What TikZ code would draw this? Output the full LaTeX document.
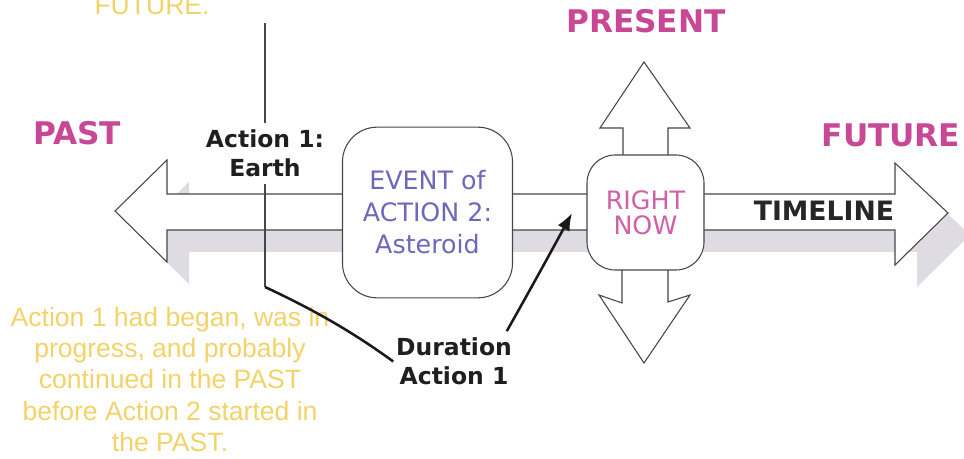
\documentclass[tikz,border=0pt]{standalone}
\usepackage{fontspec}
\newfontfamily\dvs{DejaVu Sans}
\newfontfamily\lsans{Liberation Sans}
\usetikzlibrary{arrows.meta}
\definecolor{mag}{RGB}{200,72,150}
\definecolor{rnpink}{RGB}{212,95,165}
\definecolor{evblue}{RGB}{108,104,186}
\definecolor{yel}{RGB}{243,210,105}
\definecolor{shd}{RGB}{222,219,227}
\definecolor{outl}{RGB}{70,70,70}
\begin{document}
\begin{tikzpicture}[x=0.75pt,y=-0.75pt,
  outline/.style={draw=outl,line width=0.8pt,fill=white},
  lbl/.style={font=\dvs\bfseries\fontsize{23.4}{28}\selectfont,text=mag,anchor=base,inner sep=0pt},
  tlbl/.style={font=\dvs\bfseries\fontsize{20}{24}\selectfont,text=black!85,anchor=base,inner sep=0pt},
  evbox/.style={outline,rounded corners=26pt,minimum width=127.5pt,minimum height=128pt,
    align=center,font=\dvs\fontsize{19}{24}\selectfont,text=evblue,inner sep=0pt},
  rnbox/.style={outline,rounded corners=21pt,minimum width=87.75pt,minimum height=86.25pt,
    align=center,font=\dvs\fontsize{19}{19}\selectfont,text=rnpink,inner sep=0pt},
  blacklbl/.style={font=\dvs\bfseries\fontsize{17.6}{21.5}\selectfont,text=black!88,align=center,inner xsep=2pt,inner ysep=5pt},
  ytext/.style={font=\lsans\fontsize{19.9}{23.6}\selectfont,text=yel,inner sep=0pt},
  thinline/.style={draw=outl,line width=0.8pt},
  thickline/.style={draw=black!90,line width=1.9pt}
]
\useasboundingbox (0,0) rectangle (964,459);
\clip (0,0) rectangle (964,459);

% shadow of the timeline arrow
\fill[shd,shift={(22,22)}] (115,211) -- (167,160) -- (167,194) -- (895,194) -- (895,163)
  -- (948,213) -- (895,265) -- (895,230) -- (167,230) -- (167,262) -- cycle;

% timeline arrow
\path[outline] (115,211) -- (167,160) -- (167,194) -- (895,194) -- (895,163)
  -- (948,213) -- (895,265) -- (895,230) -- (167,230) -- (167,262) -- cycle;

% present arrows (up and down)
\path[outline] (623,180) -- (623,128) -- (600,128) -- (644,62) -- (690,128) -- (668,128) -- (668,180) -- cycle;
\path[outline] (622,245) -- (622,303) -- (599,295) -- (644,363) -- (690,295) -- (668,302) -- (668,245) -- cycle;

% boxes
\node[evbox] (ev) at (427.5,212.5) {EVENT of\\ACTION 2:\\Asteroid};
\node[rnbox] (rn) at (645.5,212.5) {RIGHT\\NOW};

% labels
\node[lbl] (past) at (77,145) {PAST};
\node[lbl] (present) at (646,33) {PRESENT};
\node[lbl] (future) at (891,147) {FUTURE};
\node[tlbl] (timeline) at (824,221) {TIMELINE};

% yellow texts
\node[ytext,anchor=base] (futtop) at (152,15) {FUTURE.};
\node[ytext,align=center] (note) at (170,379.5) {Action 1 had began, was in\\progress, and probably\\continued in the PAST\\before Action 2 started in\\the PAST.};

% action 1 line
\node[blacklbl] (act1) at (265,153.5) {Action 1:\\Earth};
\coordinate (ltop) at (265,23);
\coordinate (lbot) at (265,287);
\draw[thinline] (ltop) -- (act1.north);
\draw[thinline] (act1.south) -- (lbot);

% duration
\node[blacklbl] (dur) at (454,361.5) {Duration\\Action 1};
\coordinate (tipR) at (572,213);
\draw[thickline] (lbot) .. controls (310,308) and (350,330) .. (dur.west);
\draw[thickline,-{Latex[length=13pt,width=10pt]}] ([xshift=-6pt]dur.north east) .. controls (530,290) and (552,250) .. (tipR);
\end{tikzpicture}
\end{document}
